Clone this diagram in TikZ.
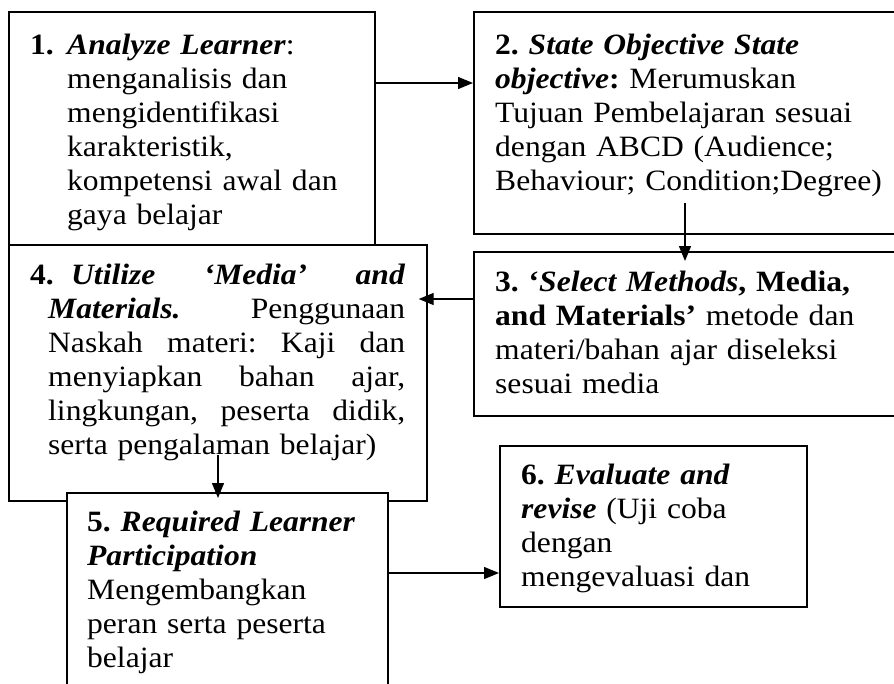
\documentclass[tikz,border=0pt]{standalone}
\usepackage{fontspec}
\setmainfont{Liberation Serif}[FakeStretch=1.07]
\usetikzlibrary{arrows.meta}
\begin{document}
\frenchspacing
\begin{tikzpicture}[x=1pt,y=-1pt,
  box/.style={draw, line width=1.7pt, fill=white, rectangle, inner sep=0pt, anchor=north west},
  txt/.style={anchor=base west, inner sep=0pt, text width=#1, align=left, font=\fontsize{29.5}{34}\selectfont\frenchspacing},
  arr/.style={draw, line width=1.3pt, -{Triangle[length=15pt,width=12pt]}}]
\useasboundingbox (0,0) rectangle (894,683);
\clip (0,0) rectangle (894,683);
% boxes
\node[box, minimum width=366pt, minimum height=233pt] (b1) at (8,11) {};
\node[box, minimum width=440pt, minimum height=222pt] (b2) at (473,11) {};
\node[box, minimum width=440pt, minimum height=164pt] (b3) at (473,251) {};
\node[box, fill=none, minimum width=418pt, minimum height=256pt] (b4) at (8,244) {};
\node[box, minimum width=321pt, minimum height=260pt] (b5) at (66,492) {};
\node[box, minimum width=307pt, minimum height=161pt] (b6) at (499,445) {};
% texts
\node[txt=40pt] (n1) at (30,54) {\textbf{1.}};
\node[txt=300pt] (t1) at (67,54) {\textbf{\textit{Analyze Learner}}:\\
menganalisis dan\\ mengidentifikasi\\ karakteristik,\\ kompetensi awal dan\\ gaya belajar};
\node[txt=400pt] (t2) at (495,54) {\textbf{2.} \textbf{\textit{State Objective State}}\\
\textbf{\textit{objective}}\textbf{:} Merumuskan\\ Tujuan Pembelajaran sesuai\\ dengan ABCD (Audience;\\ Behaviour; Condition;Degree)};
\node[txt=400pt] (t3) at (495,291) {\textbf{3.} \textbf{‘\textit{Select Methods}, Media,}\\
\textbf{and Materials’} metode dan\\ materi/bahan ajar diseleksi\\ sesuai media};
\node[txt=360pt] (t4) at (48,284) {\hspace*{-18pt}\makebox[375pt][l]{\makebox[41pt][l]{\textbf{4.}}\textbf{\textit{Utilize}}\hfill\textbf{\textit{‘Media’}}\hfill\textbf{\textit{and}}}\\
\makebox[357pt][l]{\textbf{\textit{Materials.}}\hfill Penggunaan}\\
\makebox[357pt][l]{Naskah\hfill materi:\hfill Kaji\hfill dan}\\
\makebox[357pt][l]{menyiapkan\hfill bahan\hfill ajar,}\\
\makebox[357pt][l]{lingkungan,\hfill peserta\hfill didik,}\\
serta pengalaman belajar)};
\node[txt=300pt] (t5) at (87,531) {\textbf{5.} \textbf{\textit{Required Learner}}\\
\textbf{\textit{Participation}}\\ Mengembangkan\\ peran serta peserta\\ belajar};
\node[txt=300pt] (t6) at (521,484) {\textbf{6.} \textbf{\textit{Evaluate and}}\\
\textbf{\textit{revise}} (Uji coba\\ dengan\\ mengevaluasi dan};
% connectors
\coordinate (c23) at (685,203);
\coordinate (c45) at (218,455);
\draw[arr] (b1.east |- 0,83) -- (b2.west |- 0,83);
\draw[arr, shorten >=-10pt] (c23) -- (b3.north -| c23);
\draw[arr, shorten >=-9pt] (b3.west |- 0,299) -- (b4.east |- 0,299);
\draw[arr, shorten >=-6pt] (c45) -- (b5.north -| c45);
\draw[arr] (b5.east |- 0,573) -- (b6.west |- 0,573);
\end{tikzpicture}
\end{document}
